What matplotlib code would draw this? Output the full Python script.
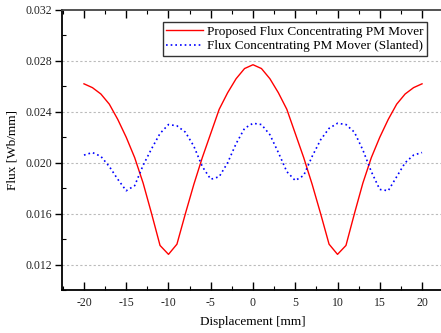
import matplotlib
matplotlib.use("Agg")
import matplotlib.pyplot as plt
from matplotlib.ticker import MultipleLocator, FormatStrFormatter

plt.rcParams['font.family'] = ['Liberation Serif', 'DejaVu Serif']
plt.rcParams['axes.unicode_minus'] = False

displacement = list(range(-20, 21))
red_half = [0.0277, 0.0274, 0.0266, 0.0255, 0.0242, 0.0223, 0.0204, 0.0183, 0.0160,
            0.0136, 0.0128, 0.0135, 0.0160, 0.0184, 0.0204, 0.0220, 0.0234, 0.0246,
            0.0254, 0.0259, 0.0262]
proposed = red_half[:0:-1] + red_half
slanted = [0.0206, 0.0208, 0.0205, 0.0197, 0.0187, 0.0178, 0.0182, 0.0198, 0.0211,
           0.0223, 0.0230, 0.0229, 0.0224, 0.0213, 0.0197, 0.0187, 0.0189, 0.0200,
           0.0215, 0.0227, 0.0231, 0.0230, 0.0222, 0.0208, 0.0193, 0.0186, 0.0190,
           0.0205, 0.0218, 0.0227, 0.0231, 0.0230, 0.0224, 0.0210, 0.0193, 0.0179,
           0.0178, 0.0189, 0.0200, 0.0206, 0.0208]
labels = ["Proposed Flux Concentrating PM Mover",
          "Flux Concentrating PM Mover (Slanted)"]
yticks = [0.012, 0.016, 0.020, 0.024, 0.028, 0.032]
xticks = [-20, -15, -10, -5, 0, 5, 10, 15, 20]

fig = plt.figure(figsize=(4.41, 3.33), dpi=100)
ax = fig.add_axes([62/441, 43/333, (444-62)/441, 280/333])

ax.plot(displacement, proposed, color='#FF0000', lw=1.0, label=labels[0])
ax.plot(displacement, slanted, color='#0000FF', lw=1.2, ls=(0, (1, 1.8)), label=labels[1])

ax.set_xlim(-22.6, 22.6)
ax.set_ylim(0.010, 0.032)
ax.set_xticks(xticks)
ax.set_yticks(yticks)
ax.yaxis.set_major_formatter(FormatStrFormatter('%.3f'))
ax.xaxis.set_minor_locator(MultipleLocator(2.5))
ax.yaxis.set_minor_locator(MultipleLocator(0.002))

for y in yticks[:-1]:
    ax.axhline(y, color='#BBBBBB', lw=0.8, ls=(0, (2, 2)), zorder=0)

ax.tick_params(axis='x', which='major', direction='in', length=6, width=1,
               labelsize=8.5, top=True, pad=5, labelcolor='#222222')
ax.tick_params(axis='x', which='minor', direction='in', length=3, width=0.8, top=True)
ax.tick_params(axis='y', which='major', direction='out', length=5, width=1,
               labelsize=8.5, pad=2, labelcolor='#222222')
ax.tick_params(axis='y', which='minor', direction='in', length=3, width=0.8)
for s in ax.spines.values():
    s.set_linewidth(1.3)
ax.spines['top'].set_color('#444444')

ax.set_xlabel('Displacement [mm]', fontsize=9.5, labelpad=5)
ax.set_ylabel('Flux [Wb/mm]', fontsize=9.5, labelpad=5)

leg = ax.legend(loc='upper right', fontsize=9.5, frameon=True, fancybox=False,
                edgecolor='black', handlelength=2.8, handletextpad=0.3,
                borderpad=0.25, labelspacing=0.2, borderaxespad=0)
leg.get_frame().set_linewidth(1.0)
leg.set_bbox_to_anchor(((427-62)/382, (290-22)/280), transform=ax.transAxes)

fig.savefig('out.png', dpi=100)
